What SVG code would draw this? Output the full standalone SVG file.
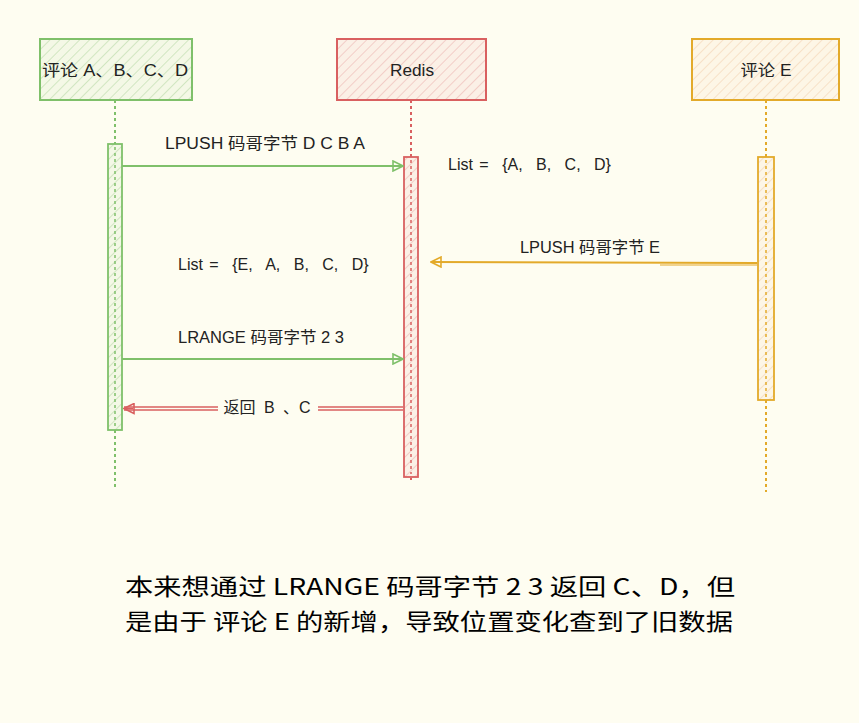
<svg xmlns="http://www.w3.org/2000/svg" width="859" height="723" viewBox="0 0 859 723">
<defs>
<pattern id="hg" width="7" height="7" patternUnits="userSpaceOnUse" patternTransform="rotate(45)"><rect width="7" height="7" fill="#f4f8e6"/><line x1="0" y1="0" x2="0" y2="7" stroke="#c8e2b8" stroke-width="1.6"/></pattern>
<pattern id="hr" width="7" height="7" patternUnits="userSpaceOnUse" patternTransform="rotate(45)"><rect width="7" height="7" fill="#fbf0e6"/><line x1="0" y1="0" x2="0" y2="7" stroke="#f0c4c0" stroke-width="1.6"/></pattern>
<pattern id="hy" width="7" height="7" patternUnits="userSpaceOnUse" patternTransform="rotate(45)"><rect width="7" height="7" fill="#fdf6e6"/><line x1="0" y1="0" x2="0" y2="7" stroke="#f6dcc0" stroke-width="1.6"/></pattern>
<marker id="ag" viewBox="0 0 12 12" refX="11" refY="6" markerWidth="12" markerHeight="12" markerUnits="userSpaceOnUse" orient="auto"><path d="M1,1 L11,6 L1,11 Z" fill="none" stroke="#7fc06a" stroke-width="1.6"/></marker>
<marker id="ar" viewBox="0 0 12 12" refX="11" refY="6" markerWidth="12" markerHeight="12" markerUnits="userSpaceOnUse" orient="auto"><path d="M1,1 L11,6 L1,11 Z" fill="none" stroke="#d96060" stroke-width="1.6"/></marker>
<marker id="ay" viewBox="0 0 12 12" refX="11" refY="6" markerWidth="12" markerHeight="12" markerUnits="userSpaceOnUse" orient="auto"><path d="M1,1 L11,6 L1,11 Z" fill="none" stroke="#e3aa2a" stroke-width="1.6"/></marker>
</defs>
<style>
.t{font-family:"Liberation Sans","Noto Sans CJK SC",sans-serif;font-size:16px;fill:#222;text-anchor:middle;dominant-baseline:central}
.ts{font-family:"Liberation Sans","Noto Sans CJK SC",sans-serif;font-size:16px;fill:#222;dominant-baseline:central;word-spacing:9px}
.b{font-family:"Noto Sans CJK SC","Liberation Sans",sans-serif;font-size:23px;fill:#000}
.gs{stroke:#7fc06a}.rs{stroke:#d96060}.ys{stroke:#e3aa2a}
.ll{stroke-width:2;stroke-dasharray:3 3;fill:none}
.act{stroke-width:1.8}
.in{stroke-width:1.5;stroke-dasharray:3 3;fill:none}
</style>
<rect width="859" height="723" fill="#fefdf1"/>
<g id="lifelines">
<line class="ll gs" x1="115" y1="100" x2="115" y2="490"/>
<line class="ll rs" x1="411" y1="100" x2="411" y2="480"/>
<line class="ll ys" x1="766" y1="100" x2="766" y2="492"/>
</g>
<g id="node-a">
<rect x="40" y="39" width="152" height="61" fill="url(#hg)" stroke="#7fc06a" stroke-width="2"/>
<text class="t" x="115" y="70" textLength="146" lengthAdjust="spacingAndGlyphs">评论 A、B、C、D</text>
</g>
<g id="node-redis">
<rect x="337" y="39" width="149" height="61" fill="url(#hr)" stroke="#d96060" stroke-width="2"/>
<text class="t" x="412" y="70" textLength="44" lengthAdjust="spacingAndGlyphs">Redis</text>
</g>
<g id="node-e">
<rect x="692" y="39" width="147" height="61" fill="url(#hy)" stroke="#e3aa2a" stroke-width="2"/>
<text class="t" x="766" y="70" textLength="51" lengthAdjust="spacingAndGlyphs">评论 E</text>
</g>
<g id="activations">
<rect class="act gs" x="108" y="144" width="14" height="286" fill="url(#hg)"/>
<line class="in gs" x1="115" y1="147" x2="115" y2="427"/>
<rect class="act rs" x="404" y="157" width="14" height="320" fill="url(#hr)"/>
<line class="in rs" x1="411" y1="160" x2="411" y2="474"/>
<rect class="act ys" x="758" y="157" width="16" height="243" fill="url(#hy)"/>
<line class="in ys" x1="766" y1="160" x2="766" y2="397"/>
</g>
<g id="connectors" fill="none">
<line class="gs" x1="122" y1="166" x2="403" y2="166" stroke-width="2" marker-end="url(#ag)"/>
<line class="ys" x1="757" y1="263" x2="431" y2="262" stroke-width="2" marker-end="url(#ay)"/>
<line class="ys" x1="757" y1="265" x2="660" y2="265" stroke-width="1.2"/>
<line class="gs" x1="122" y1="359" x2="403" y2="359" stroke-width="2" marker-end="url(#ag)"/>
<path class="rs" d="M403,407 H318 M403,410 H318 M218,407 H124 M218,410 H124" stroke-width="1.6"/>
<path class="rs" d="M124,408.5 L133,408.5" stroke-width="1.5" marker-end="url(#ar)" transform="rotate(180 128.5 408.5)"/>
</g>
<g id="labels">
<text class="t" x="265" y="143" textLength="200" lengthAdjust="spacingAndGlyphs">LPUSH 码哥字节 D C B A</text>
<text class="ts" x="448" y="164"><tspan style="word-spacing:2px">List =</tspan> {A, B, C, D}</text>
<text class="t" x="590" y="247" textLength="140" lengthAdjust="spacingAndGlyphs">LPUSH 码哥字节 E</text>
<text class="ts" x="178" y="264"><tspan style="word-spacing:2px">List =</tspan> {E, A, B, C, D}</text>
<text class="t" x="261" y="337" textLength="166" lengthAdjust="spacingAndGlyphs">LRANGE 码哥字节 2 3</text>
<text class="t" x="267" y="407" style="word-spacing:4px">返回 B 、C</text>
</g>
<g id="caption">
<text class="b" x="125" y="595" textLength="610" lengthAdjust="spacingAndGlyphs">本来想通过 LRANGE 码哥字节 2 3 返回 C、D，但</text>
<text class="b" x="125" y="630" textLength="608" lengthAdjust="spacingAndGlyphs">是由于 评论 E 的新增，导致位置变化查到了旧数据</text>
</g>
</svg>
